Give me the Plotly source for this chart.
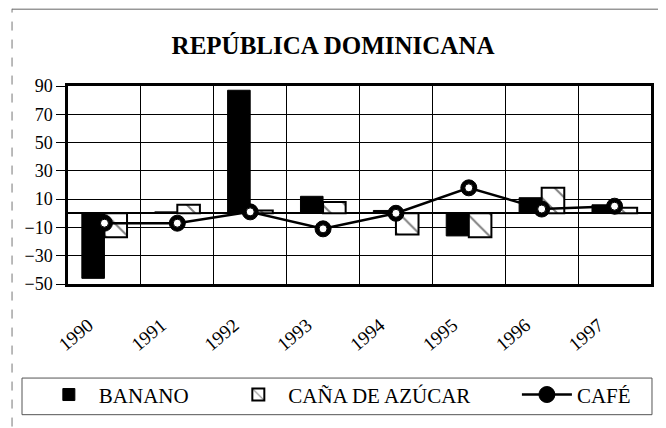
import plotly.graph_objects as go

years = [1990, 1991, 1992, 1993, 1994, 1995, 1996, 1997]
banano = [-46, 1, 87, 12, 2, -16, 11, 6]
cana = [-17, 6, 2, 8, -15, -17, 18, 4]
cafe = [-7, -7, 1, -11, 0, 18, 3, 5]

serif = "Liberation Serif, Times New Roman, serif"

fig = go.Figure()

fig.add_trace(go.Bar(
    x=years, y=banano,
    name="BANANO",
    legend="legend",
    marker=dict(color="black", line=dict(color="black", width=1)),
))
fig.add_trace(go.Bar(
    x=years, y=cana,
    name="CAÑA DE AZÚCAR",
    legend="legend2",
    marker=dict(
        color="white",
        line=dict(color="black", width=2),
        pattern=dict(shape="\\", fgcolor="black", bgcolor="white",
                     size=16, solidity=0.12, fillmode="overlay"),
    ),
))
fig.add_trace(go.Scatter(
    x=years, y=cafe,
    mode="lines+markers",
    name="CAFÉ",
    legend="legend3",
    line=dict(color="black", width=2.5),
    marker=dict(symbol="circle", size=16, color="black",
                line=dict(color="black", width=1)),
))
# white centre of the café markers
fig.add_trace(go.Scatter(
    x=years, y=cafe,
    mode="markers",
    showlegend=False,
    hoverinfo="skip",
    marker=dict(symbol="circle", size=8, color="white",
                line=dict(color="black", width=1)),
))

leg = dict(
    orientation="h",
    xanchor="left",
    y=-0.56, yanchor="middle",
    font=dict(family=serif, size=21, color="black"),
    bgcolor="rgba(0,0,0,0)",
    itemwidth=50,
)

fig.update_layout(
    width=658, height=420,
    paper_bgcolor="white",
    plot_bgcolor="white",
    barmode="group",
    bargap=0.38,
    bargroupgap=0,
    font=dict(family=serif, size=19, color="black"),
    title=dict(
        text="<b>REPÚBLICA DOMINICANA</b>",
        x=0.494, xanchor="center",
        y=0.912, yanchor="middle",
        font=dict(family=serif, size=25, color="black"),
    ),
    margin=dict(l=60, r=15, t=78, b=142),
    showlegend=True,
    legend=dict(leg, x=-0.05),
    legend2=dict(leg, x=0.275),
    legend3=dict(leg, x=0.77),
    shapes=[
        # outer frame
        dict(type="line", xref="paper", yref="paper",
             x0=-0.096, x1=-0.096, y0=-0.72, y1=1.39,
             line=dict(color="#777777", width=1, dash="dash")),
        dict(type="line", xref="paper", yref="paper",
             x0=-0.096, x1=1.0154, y0=1.388, y1=1.388,
             line=dict(color="#666666", width=1)),
        dict(type="line", xref="paper", yref="paper",
             x0=1.0154, x1=1.0154, y0=-0.72, y1=1.39,
             line=dict(color="black", width=3)),
        # legend frame
        dict(type="rect", xref="paper", yref="paper",
             x0=-0.0789, x1=1.0017, y0=-0.66, y1=-0.475,
             line=dict(color="#555555", width=1)),
    ],
)

fig.update_xaxes(
    range=[1989.5, 1997.5],
    tickvals=years,
    ticktext=[str(y) for y in years],
    tickangle=-40,
    ticks="",
    ticklabelshift=-16,
    ticklabelstandoff=20,
    tickfont=dict(family=serif, size=19, color="black"),
    showgrid=False,
    minor=dict(tick0=1989.5, dtick=1, showgrid=True,
               gridcolor="black", gridwidth=1, ticks=""),
    showline=True, linecolor="black", linewidth=2.5, mirror=True,
    zeroline=False,
)
fig.update_yaxes(
    range=[-50, 90],
    tickvals=[-50, -30, -10, 10, 30, 50, 70, 90],
    ticks="outside", ticklen=9, tickcolor="black",
    tickfont=dict(family=serif, size=18, color="black"),
    showgrid=True, gridcolor="black", gridwidth=1,
    zeroline=True, zerolinecolor="black", zerolinewidth=1.5,
    showline=True, linecolor="black", linewidth=2.5, mirror=True,
)

fig.write_html("out.html")
